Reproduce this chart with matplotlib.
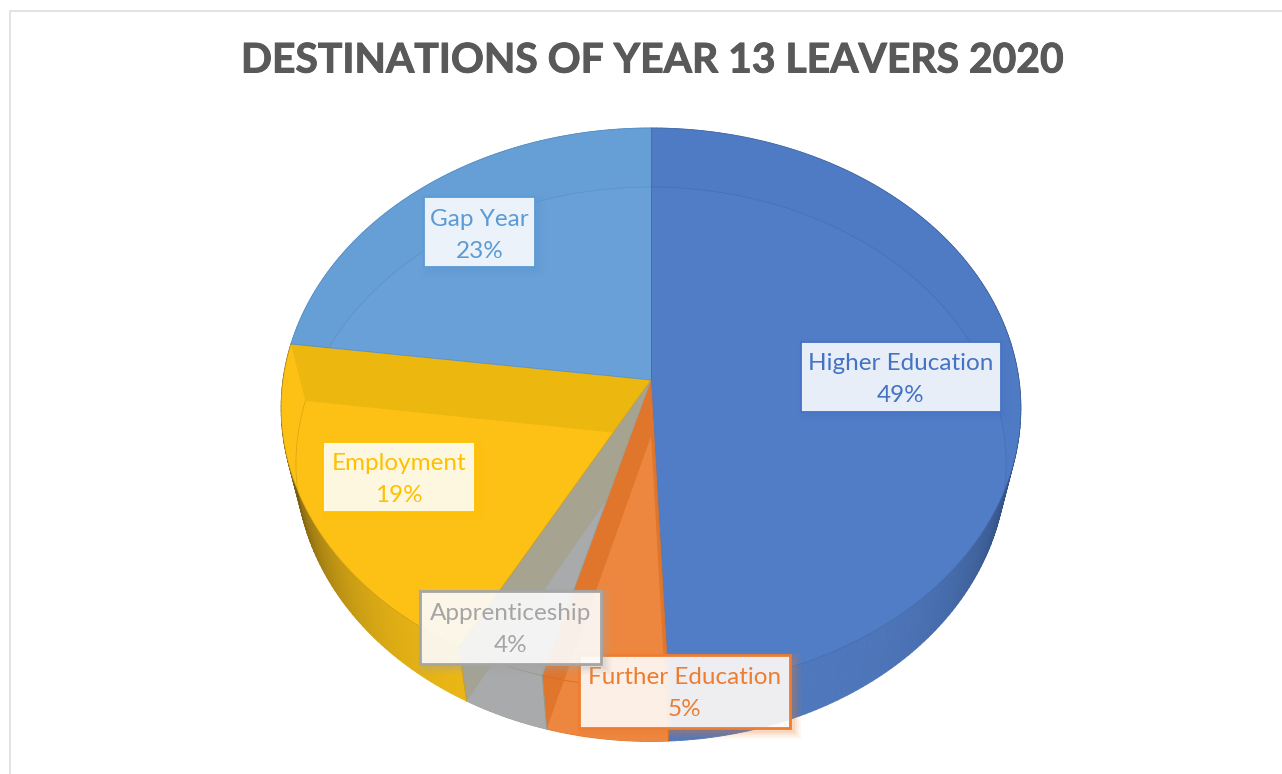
import numpy as np
import matplotlib
matplotlib.use('Agg')
import matplotlib.pyplot as plt
import matplotlib.patheffects as pe
from matplotlib.collections import PolyCollection
from matplotlib.colors import to_rgb
from matplotlib.patches import Polygon, Rectangle
from matplotlib.path import Path

# data (labels round these)
categories = ['Higher Education', 'Further Education', 'Apprenticeship', 'Employment', 'Gap Year']
values = [49.3, 5.0, 3.6, 19.2, 22.9]

# styles per slice
label_colors = ['#4472c4', '#ed7d31', '#a5a5a5', '#ffc000', '#5b9bd5']
band_colors = ['#4f7bc4', '#e0762c', '#a6a391', '#ecb70f', '#659fd6']
inner_colors = ['#517cc6', '#ed8740', '#a9aaac', '#fdc116', '#68a0d7']
wall_light = ['#4f78bd', '#e0762c', '#a3a294', '#eeb915', '#659fd6']
wall_dark = ['#2b4676', '#e0762c', '#a3a294', '#6a5210', '#659fd6']
line_colors = ['#3f659f', '#c9661f', '#8f8f86', '#b8901a', '#4f86bb']
# label boxes in pixels: left, top, right, bottom
boxes = {
    'Higher Education': (801, 342, 1001, 412),
    'Further Education': (579, 655, 790, 728),
    'Apprenticeship': (420, 591, 601, 664),
    'Employment': (323, 442, 475, 512),
    'Gap Year': (424, 197, 535, 267),
}
draw_order = ['Higher Education', 'Gap Year', 'Employment', 'Further Education', 'Apprenticeship']

# pie projection
CX, CY = 651, 380
RX, RY = 368, 277.2
PERSP = 0.1
DEPTH = 56.5
BOTTOM_SX = 0.96
BOTTOM_SY = 0.99


def rim(frac, dy=0.0, sx=1.0, sy=1.0):
    t = 2 * np.pi * np.asarray(frac)
    u, v = np.sin(t), np.cos(t)
    w = 1 + PERSP * v
    return np.column_stack([CX + sx * RX * u / w, CY + dy - sy * RY * v / w])


def low_rim(frac):
    return rim(frac, DEPTH, BOTTOM_SX, BOTTOM_SY)


def wedge(f0, f1):
    return np.vstack([[CX, CY], rim(np.linspace(f0, f1, 120))])


def low_wedge(f0, f1):
    return np.vstack([[CX, CY + DEPTH], low_rim(np.linspace(f0, f1, 120))])


def wall_quads(f0, f1):
    fr = np.linspace(f0, f1, max(int((f1 - f0) * 400), 4))
    top = rim(fr)
    low = low_rim(fr)
    return [np.array([top[i], top[i + 1], low[i + 1], low[i]]) for i in range(len(fr) - 1)], fr


def wall_outline(f0, f1):
    fr = np.linspace(f0, f1, 120)
    return np.vstack([rim(fr), low_rim(fr[::-1])])


fig = plt.figure(figsize=(12.82, 7.74), dpi=100)
ax = fig.add_axes([0, 0, 1, 1])
ax.set_xlim(0, 1282)
ax.set_ylim(774, 0)
ax.axis('off')
plt.rcParams['font.family'] = ['Lato', 'DejaVu Sans']

# chart frame
ax.plot([9.5, 9.5, 1282], [774, 10.5, 10.5], color='#dedede', lw=1.2, zorder=1)

title = ax.text(652, 61, 'DESTINATIONS OF YEAR 13 LEAVERS 2020', ha='center', va='center',
                fontsize=29.4, fontweight='bold', color='#595959', zorder=2)
title.set_path_effects([pe.withStroke(linewidth=0.7, foreground='#595959')])

fracs = np.concatenate([[0], np.cumsum(values)]) / np.sum(values)

# side walls first, shaded towards the outer edges
for i in range(len(values)):
    f0, f1 = fracs[i], fracs[i + 1]
    quads, fr = wall_quads(f0, f1)
    mid = 0.5 * (fr[:-1] + fr[1:])
    shade = np.abs(np.sin(2 * np.pi * mid)) ** 5
    light, dark = np.array(to_rgb(wall_light[i])), np.array(to_rgb(wall_dark[i]))
    cols = [light + (dark - light) * s for s in shade]
    ax.add_collection(PolyCollection(quads, facecolors=cols, edgecolors=cols, linewidths=0.6, zorder=3))

# top faces, with the bottom of the pie showing through
for i in range(len(values)):
    f0, f1 = fracs[i], fracs[i + 1]
    top_pts = wedge(f0, f1)
    ax.add_patch(Polygon(top_pts, closed=True, fc=band_colors[i], ec='none', zorder=4))

    inner = Polygon(low_wedge(f0, f1), closed=True, fc=inner_colors[i], ec='none', zorder=5)
    ax.add_patch(inner)
    # grey and orange show through on the wall as well
    if categories[i] in ('Apprenticeship', 'Further Education'):
        clip_pts = np.vstack([top_pts, wall_outline(f0, f1)])
        codes = ([Path.MOVETO] + [Path.LINETO] * (len(top_pts) - 1) +
                 [Path.MOVETO] + [Path.LINETO] * (len(clip_pts) - len(top_pts) - 1))
        clip = Path(clip_pts, codes)
    else:
        clip = Path(top_pts)
    inner.set_clip_path(clip, transform=ax.transData)

    # the back wall shows through the yellow slice as a lighter strip
    if categories[i] == 'Employment':
        strip = Polygon(wall_outline(f0, f1), closed=True, fc=inner_colors[i], ec='none', zorder=5)
        ax.add_patch(strip)
        strip.set_clip_path(Path(top_pts), transform=ax.transData)

    # faint arc of the bottom rim inside this slice
    arc = low_rim(np.linspace(f0, f1, 120))
    arc_line, = ax.plot(arc[:, 0], arc[:, 1], color=line_colors[i], lw=0.6, alpha=0.45, zorder=6)
    arc_line.set_clip_path(Path(top_pts), transform=ax.transData)

# slice edges and rim
for i in range(len(values)):
    f0, f1 = fracs[i], fracs[i + 1]
    arc = rim(np.linspace(f0, f1, 120))
    ax.plot(arc[:, 0], arc[:, 1], color=line_colors[i], lw=0.6, alpha=0.6, zorder=7)
    edge = rim([f0])[0]
    ax.plot([CX, edge[0]], [CY, edge[1]], color=line_colors[i], lw=0.7, alpha=0.6, zorder=7)
    # wall seams only show on the front of the pie
    if 0.25 < f0 < 0.75:
        low = low_rim([f0])[0]
        ax.plot([edge[0], low[0]], [edge[1], low[1]], color=line_colors[i], lw=0.6, alpha=0.7, zorder=7)

# data labels
z = 10
for name in draw_order:
    i = categories.index(name)
    left, top, right, bottom = boxes[name]
    col = label_colors[i]
    for grow, a in [(7, 0.05), (5, 0.07), (3, 0.09), (1, 0.12)]:
        ax.add_patch(Rectangle((left + 4 - grow, top + 4 - grow), right - left + 2 * grow, bottom - top + 2 * grow,
                               fc=col, ec='none', alpha=a, zorder=z))
    lw = 2.0 if name in ('Apprenticeship', 'Further Education') else 1.3
    ax.add_patch(Rectangle((left, top), right - left, bottom - top, fc=(1, 1, 1, 0.88), ec=col, lw=lw, zorder=z + 1))
    xc = 0.5 * (left + right)
    ax.text(xc, top + 22, name, ha='center', va='center', fontsize=17.5, color=col, zorder=z + 2)
    ax.text(xc, top + 54, f'{round(values[i])}%', ha='center', va='center', fontsize=17.5, color=col, zorder=z + 2)
    z += 3

fig.savefig('out.png', dpi=100)
